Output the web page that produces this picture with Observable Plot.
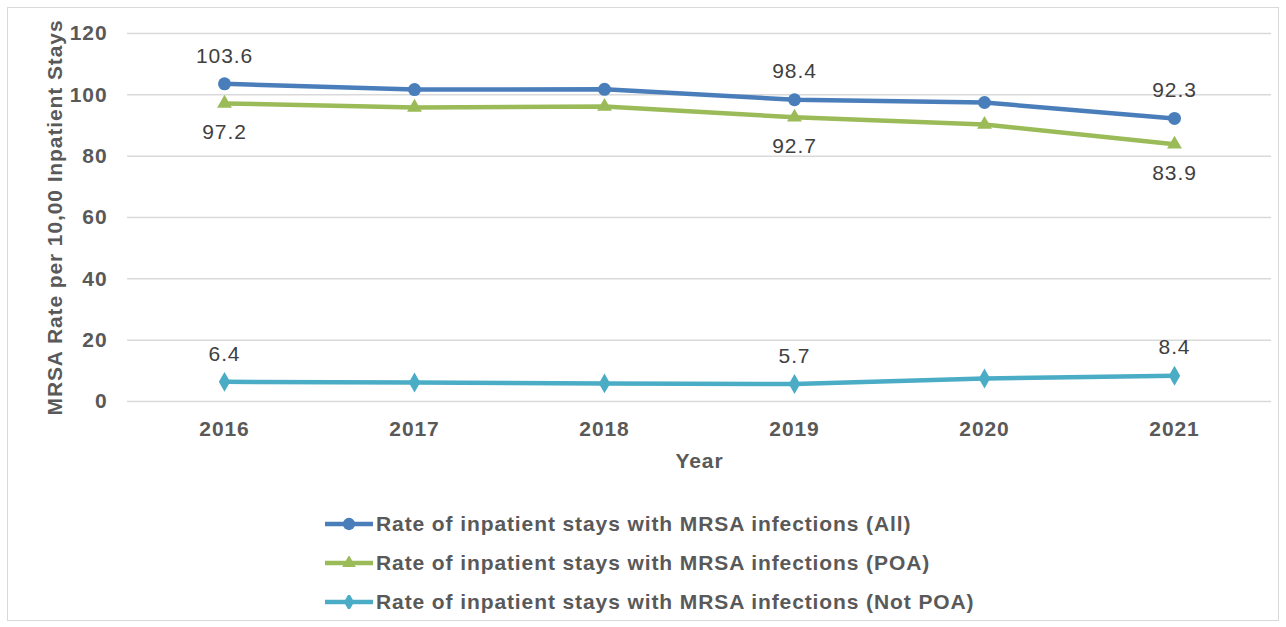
<!DOCTYPE html>
<html>
<head>
<meta charset="utf-8">
<script src="https://cdn.jsdelivr.net/npm/d3@7"></script>
<script src="https://cdn.jsdelivr.net/npm/@observablehq/plot@0.6"></script>
<style>
  html, body { margin: 0; padding: 0; background: #fff; }
  #frame { position: absolute; left: 7px; top: 7px; width: 1270px; height: 612px; border: 1px solid #d9d9d9; background: #fff; }
  #legend { position: absolute; left: 317px; top: 496px; font-family: "Liberation Sans", Arial, sans-serif; font-weight: bold; font-size: 21px; letter-spacing: 0.9px; color: #595959; }
  .row { display: flex; align-items: center; height: 39px; }
  .row svg { margin-right: 3px; }
</style>
</head>
<body>
<div id="frame"><div id="chart"></div><div id="legend"></div></div>
<script>
const years = [2016, 2017, 2018, 2019, 2020, 2021];
const allRate = [103.6, 101.7, 101.8, 98.4, 97.5, 92.3];
const poaRate = [97.2, 95.9, 96.2, 92.7, 90.3, 83.9];
const notPoaRate = [6.4, 6.2, 5.9, 5.7, 7.5, 8.4];
const seriesNames = [
  "Rate of inpatient stays with MRSA infections (All)",
  "Rate of inpatient stays with MRSA infections (POA)",
  "Rate of inpatient stays with MRSA infections (Not POA)"
];
const seriesColors = ["#4a7ebb", "#9bbb59", "#4bacc6"];
const seriesSymbols = ["circle", "triangle", "diamond"];
const labelYears = [2016, 2019, 2021];
const yTicks = [0, 20, 40, 60, 80, 100, 120];

const valuesBySeries = [allRate, poaRate, notPoaRate];
const data = seriesNames.flatMap((s, i) => years.map((yr, j) => ({series: s, idx: i, year: yr, value: valuesBySeries[i][j]})));
const labeled = data.filter(d => labelYears.includes(d.year));

const font = '"Liberation Sans", Arial, sans-serif';

const marks = [
  Plot.ruleY(yTicks, {stroke: "#d9d9d9", strokeWidth: 1.5}),
  Plot.axisY({ticks: yTicks, tickSize: 0, tickPadding: 20, fontSize: 21, fontWeight: "bold", fill: "#595959",
    label: "MRSA Rate per 10,00 Inpatient Stays", labelAnchor: "center", labelOffset: 80, labelArrow: "none"}),
  Plot.axisX({tickSize: 0, tickPadding: 20, fontSize: 21, fontWeight: "bold", fill: "#595959",
    label: "Year", labelAnchor: "center", labelOffset: 66, labelArrow: "none", tickFormat: d => String(d)})
];
const radii = [6.5, 5.5, 6];
seriesNames.forEach((s, i) => {
  const rows = data.filter(d => d.idx === i);
  marks.push(Plot.line(rows, {x: "year", y: "value", stroke: seriesColors[i], strokeWidth: 4.5}));
  marks.push(Plot.dot(rows, {x: "year", y: "value", symbol: () => seriesSymbols[i], fill: seriesColors[i], stroke: "none", r: radii[i]}));
});
marks.push(Plot.text(labeled.filter(d => d.idx !== 1), {x: "year", y: "value", text: d => d.value.toFixed(1), dy: -28, fontSize: 21, fill: "#404040"}));
marks.push(Plot.text(labeled.filter(d => d.idx === 1), {x: "year", y: "value", text: d => d.value.toFixed(1), dy: 29, fontSize: 21, fill: "#404040"}));

const chart = Plot.plot({
  width: 1270,
  height: 485,
  marginLeft: 119,
  marginRight: 7,
  marginTop: 25,
  marginBottom: 92,
  style: {fontFamily: font, background: "transparent", overflow: "visible", letterSpacing: "0.9px"},
  x: {type: "point", domain: years, padding: 0.5},
  y: {domain: [0, 120]},
  marks
});
document.getElementById("chart").appendChild(chart);

const legend = document.getElementById("legend");
const types = [d3.symbolCircle, d3.symbolTriangle, d3.symbolDiamond];
const sizes = [120, 80, 90];
seriesNames.forEach((s, i) => {
  const row = document.createElement("div");
  row.className = "row";
  const path = d3.symbol(types[i], sizes[i])();
  row.innerHTML = `<svg width="48" height="14" viewBox="0 0 48 14"><line x1="0" x2="48" y1="7" y2="7" stroke="${seriesColors[i]}" stroke-width="4.5"/><path transform="translate(24,7)" d="${path}" fill="${seriesColors[i]}"/></svg><span>${s}</span>`;
  legend.appendChild(row);
});
</script>
</body>
</html>
